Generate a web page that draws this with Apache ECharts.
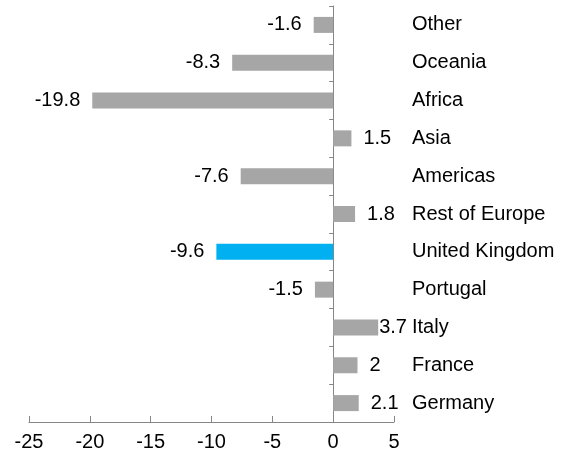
<!DOCTYPE html>
<html>
<head>
<meta charset="utf-8">
<script src="https://cdn.jsdelivr.net/npm/echarts@6/dist/echarts.min.js"></script>
<style>
  html, body { margin: 0; padding: 0; background: #fff; }
  #chart { width: 568px; height: 462px; }
</style>
</head>
<body>
<div id="chart"></div>
<script>
// categories listed from top to bottom
const categories = ["Other", "Oceania", "Africa", "Asia", "Americas", "Rest of Europe",
  "United Kingdom", "Portugal", "Italy", "France", "Germany"];
const values = [-1.6, -8.3, -19.8, 1.5, -7.6, 1.8, -9.6, -1.5, 3.7, 2, 2.1];
const highlight = "United Kingdom";

const font = "Liberation Sans, Arial, sans-serif";

const barData = values.map(function (v, i) {
  const name = categories[i];
  return {
    value: v,
    itemStyle: { color: name === highlight ? "#00B0F0" : "#A6A6A6" },
    label: {
      position: v < 0 ? "left" : "right",
      distance: name === "Italy" ? 1 : 12
    }
  };
});

const chart = echarts.init(document.getElementById("chart"));
chart.setOption({
  animation: false,
  grid: { left: 29, right: 174, top: 6, bottom: 40, containLabel: false },
  xAxis: {
    type: "value",
    min: -25,
    max: 5,
    interval: 5,
    splitLine: { show: false },
    axisLine: { show: true, lineStyle: { color: "#868686", width: 1 } },
    axisTick: { show: true, inside: true, length: 6, lineStyle: { color: "#868686" } },
    axisLabel: { color: "#000", fontSize: 20, fontFamily: font, margin: 10 }
  },
  yAxis: [
    {
      type: "category",
      data: categories,
      inverse: true,
      axisLine: { show: true, onZero: true, lineStyle: { color: "#868686", width: 1 } },
      axisTick: { show: true, length: 4, lineStyle: { color: "#868686" } },
      axisLabel: { show: false }
    },
    {
      type: "category",
      data: categories,
      inverse: true,
      position: "right",
      axisLine: { show: false },
      axisTick: { show: false },
      axisLabel: { color: "#000", fontSize: 20, fontFamily: font, margin: 18, padding: [3, 0, 0, 0] }
    }
  ],
  series: [
    {
      type: "bar",
      yAxisIndex: 0,
      barWidth: 16,
      data: barData,
      label: { show: true, color: "#000", fontSize: 20, fontFamily: font, padding: [3, 0, 0, 0] }
    }
  ]
});
</script>
</body>
</html>
